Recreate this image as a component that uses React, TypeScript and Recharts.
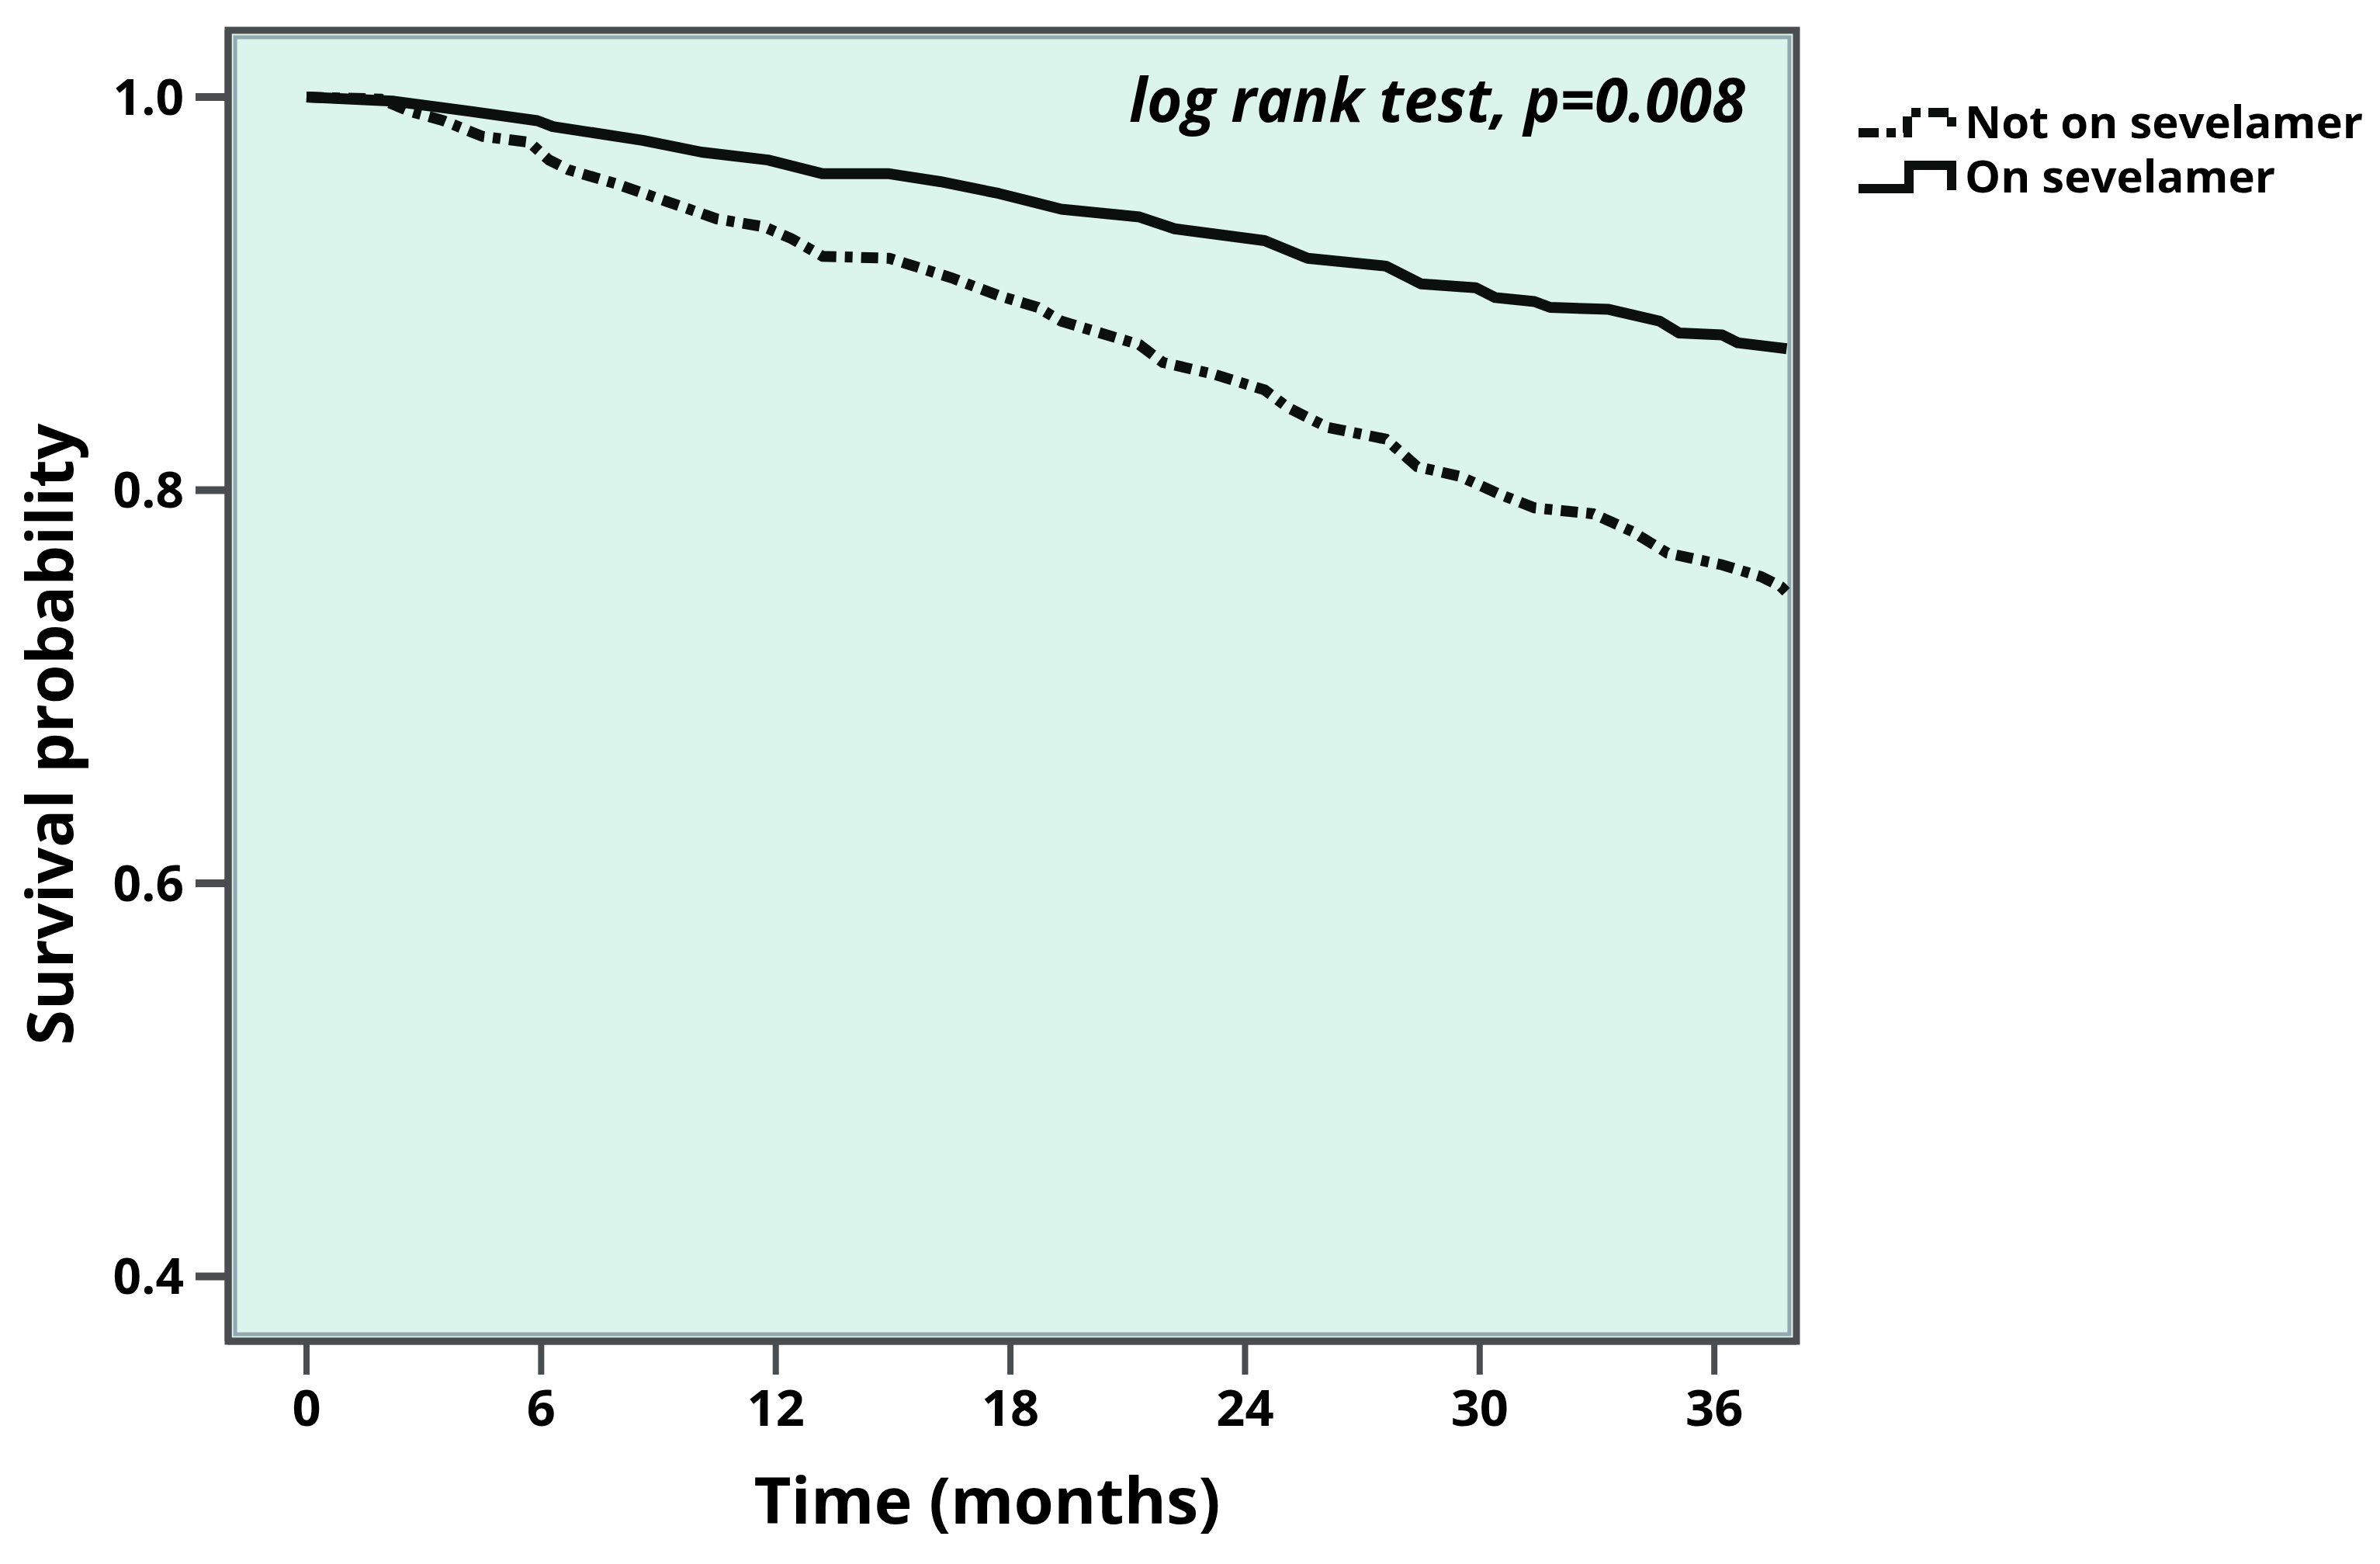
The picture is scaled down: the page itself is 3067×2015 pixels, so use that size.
import React from 'react';
import { LineChart, Line, XAxis, YAxis, ReferenceArea, CartesianGrid, Customized } from 'recharts';

// ---- data ----
const onSevTime = [0, 2.2, 4.1, 5.9, 6.3, 8.6, 10.1, 11.8, 13.2, 14.9, 16.2, 17.7, 19.3, 21.3, 22.2, 24.5, 25.6, 27.6, 28.5, 29.9, 30.4, 31.4, 31.8, 33.3, 34.6, 35.1, 36.2, 36.6, 37.85];
const onSevSurv = [1.0, 0.998, 0.993, 0.988, 0.985, 0.978, 0.972, 0.968, 0.961, 0.961, 0.957, 0.951, 0.943, 0.939, 0.933, 0.927, 0.918, 0.914, 0.905, 0.903, 0.898, 0.896, 0.893, 0.892, 0.886, 0.88, 0.879, 0.875, 0.872];

const notOnSevTime = [0, 1.9, 2.6, 3.5, 4.5, 5.7, 6.2, 6.7, 7.9, 9.2, 10.5, 11.7, 12.4, 13.2, 14.9, 16.5, 17.7, 18.7, 19.3, 20.3, 21.3, 21.9, 23.2, 24.5, 25.1, 26.1, 27.6, 28.4, 29.5, 30.5, 31.4, 32.9, 33.9, 34.8, 36.2, 37.2, 37.7, 37.85];
const notOnSevSurv = [1.0, 0.999, 0.993, 0.988, 0.98, 0.977, 0.968, 0.963, 0.956, 0.947, 0.938, 0.934, 0.928, 0.919, 0.918, 0.908, 0.899, 0.893, 0.886, 0.88, 0.874, 0.865, 0.859, 0.851, 0.842, 0.832, 0.826, 0.812, 0.807, 0.798, 0.791, 0.788, 0.779, 0.768, 0.762, 0.756, 0.751, 0.748];

const xTicks = [0, 6, 12, 18, 24, 30, 36];
const yTicks = [0.4, 0.6, 0.8, 1.0];
const seriesNames = ['Not on sevelamer', 'On sevelamer'];
const xTitle = 'Time (months)';
const yTitle = 'Survival probability';
const annotation = 'log rank test, p=0.008';

const xDomain: [number, number] = [-2.004, 38.1];
const yDomain: [number, number] = [0.367, 1.034];

const onSevData = onSevTime.map((t, i) => ({ t, s: onSevSurv[i] }));
const notOnSevData = notOnSevTime.map((t, i) => ({ t, s: notOnSevSurv[i] }));

const FONT = '"Open Sans", "DejaVu Sans", sans-serif';
const INK = '#0b0f0d';
const DASH = '22 11 10 11';

const Overlay = () => (
  <g fontFamily={FONT} fill="#000">
    <text x={86} y={938} transform="rotate(-90 86 938)" textAnchor="middle" fontSize={82} fontWeight={700}>
      {yTitle}
    </text>
    <text x={1264} y={1955} textAnchor="middle" fontSize={83} fontWeight={700}>
      {xTitle}
    </text>
    <text x={2241} y={149} textAnchor="end" fontSize={78} fontWeight={700} fontStyle="italic">
      {annotation}
    </text>
    <path d="M2387,163 H2450 V137 H2507 V164" fill="none" stroke={INK} strokeWidth={12} strokeDasharray="26 10 12 10" />
    <text x={2524} y={170} fontSize={58} fontWeight={700}>{seriesNames[0]}</text>
    <path d="M2387,235 H2452 V205 H2507 V237" fill="none" stroke={INK} strokeWidth={12} />
    <text x={2524} y={240} fontSize={58} fontWeight={700}>{seriesNames[1]}</text>
  </g>
);

export default function App() {
  return (
    <div style={{ width: 3051, height: 1990 }}>
      <LineChart width={3051} height={1990} margin={{ top: 31, right: 744, bottom: 70, left: 86 }}>
        <CartesianGrid fill="#dcf5ec" fillOpacity={1} horizontal={false} vertical={false} />
        <XAxis
          type="number"
          dataKey="t"
          domain={xDomain}
          allowDataOverflow
          ticks={xTicks}
          height={200}
          tickSize={43}
          tickMargin={20}
          axisLine={{ stroke: '#4a4d50', strokeWidth: 9 }}
          tickLine={{ stroke: '#4a4d50', strokeWidth: 8 }}
          tick={{ fontSize: 65, fontWeight: 700, fill: '#000', fontFamily: FONT }}
        />
        <YAxis
          type="number"
          domain={yDomain}
          allowDataOverflow
          ticks={yTicks}
          width={200}
          tickSize={42}
          tickMargin={15}
          tickFormatter={(v: number) => v.toFixed(1)}
          axisLine={{ stroke: '#4a4d50', strokeWidth: 9 }}
          tickLine={{ stroke: '#4a4d50', strokeWidth: 10 }}
          tick={{ fontSize: 64, fontWeight: 700, fill: '#000', fontFamily: FONT }}
        />
        <ReferenceArea
          x1={xDomain[0]}
          x2={xDomain[1]}
          y1={yDomain[0]}
          y2={yDomain[1]}
          fill="none"
          stroke="#4a4d50"
          strokeWidth={9}
          ifOverflow="visible"
        />
        <ReferenceArea
          x1={xDomain[0] + 0.18}
          x2={xDomain[1] - 0.18}
          y1={yDomain[0] + 0.0036}
          y2={yDomain[1] - 0.0036}
          fill="none"
          stroke="#93a9b2"
          strokeWidth={5}
          ifOverflow="visible"
        />
        <Line
          data={notOnSevData}
          dataKey="s"
          name={seriesNames[0]}
          type="linear"
          stroke={INK}
          strokeWidth={14}
          strokeDasharray={DASH}
          dot={false}
          activeDot={false}
          isAnimationActive={false}
        />
        <Line
          data={onSevData}
          dataKey="s"
          name={seriesNames[1]}
          type="linear"
          stroke={INK}
          strokeWidth={14}
          strokeLinejoin="round"
          dot={false}
          activeDot={false}
          isAnimationActive={false}
        />
        <Customized component={Overlay} />
      </LineChart>
    </div>
  );
}
